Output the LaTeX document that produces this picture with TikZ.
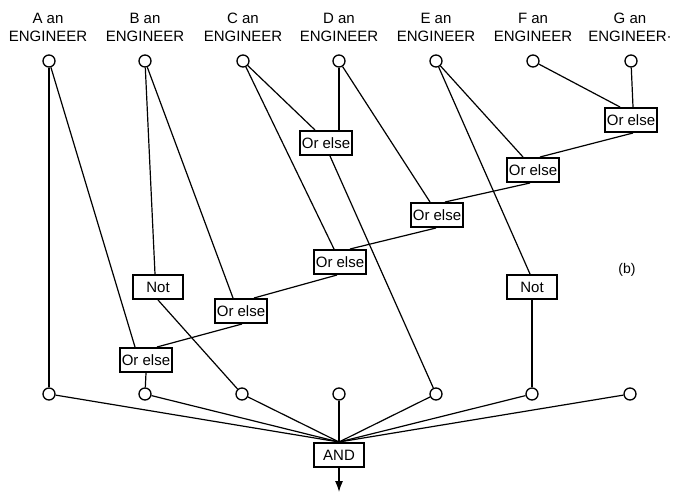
\documentclass[tikz,border=0pt]{standalone}
\usepackage{fontspec}
\setmainfont{Liberation Sans}
\usetikzlibrary{arrows.meta}

\begin{document}
\begin{tikzpicture}[x=1pt,y=-1pt,line width=1.2pt,
  port/.style={draw,circle,fill=white,minimum size=12pt,inner sep=0pt,line width=1.3pt},
  gate/.style={draw,fill=white,line width=2pt,minimum width=50pt,minimum height=24pt,inner sep=2pt,font=\fontsize{15}{18}\selectfont},
  lbl/.style={align=center,font=\fontsize{15}{18}\selectfont},>={Latex[length=11pt,width=8pt]}]
\useasboundingbox (0,0) rectangle (679,492);
% inputs
\node[lbl] (la) at (48,27) {A an\\ENGINEER};
\node[lbl] (lb) at (145,27) {B an\\ENGINEER};
\node[lbl] (lc) at (243,27) {C an\\ENGINEER};
\node[lbl] (ld) at (339,27) {D an\\ENGINEER};
\node[lbl] (le) at (436,27) {E an\\ENGINEER};
\node[lbl] (lf) at (533,27) {F an\\ENGINEER};
\node[lbl] (lg) at (630,27) {G an\\ENGINEER·};
\node[port] (a1) at (49,61) {};
\node[port] (b1) at (145,61) {};
\node[port] (c1) at (243,61) {};
\node[port] (d1) at (339,61) {};
\node[port] (e1) at (436,61) {};
\node[port] (f1) at (533,61) {};
\node[port] (g1) at (631,61) {};
% gates
\node[gate] (or0) at (326,143) {Or else};
\node[gate] (or1) at (631,120) {Or else};
\node[gate] (or2) at (533,170) {Or else};
\node[gate] (or3) at (437,215) {Or else};
\node[gate] (or4) at (340,262) {Or else};
\node[gate] (or5) at (241,311) {Or else};
\node[gate] (or6) at (146,360) {Or else};
\node[gate] (not1) at (158,287) {Not};
\node[gate] (not2) at (532,287) {Not};
\node[font=\fontsize{14}{16}\selectfont] (tag) at (627,270) {(b)};
% outputs
\node[port] (a2) at (49,394) {};
\node[port] (b2) at (145,394) {};
\node[port] (c2) at (242,394) {};
\node[port] (d2) at (339,394) {};
\node[port] (e2) at (436,394) {};
\node[port] (f2) at (532,394) {};
\node[port] (g2) at (630,394) {};
\node[gate] (and) at (339,455) {AND};
\coordinate (out) at (339,492);
% wiring
\draw (a1) -- (a2);
\draw (a1) -- ([xshift=-11pt]or6.north);
\draw (b1) -- ([xshift=-3pt]not1.north);
\draw (b1) -- ([xshift=-8pt]or5.north);
\draw (c1) -- ([xshift=-11pt]or0.north);
\draw (c1) -- ([xshift=-6pt]or4.north);
\draw (d1) -- ([xshift=13pt]or0.north);
\draw (d1) -- ([xshift=-7pt]or3.north);
\draw (e1) -- ([xshift=-10pt]or2.north);
\draw (e1) -- ([xshift=-2pt]not2.north);
\draw (f1) -- ([xshift=-11pt]or1.north);
\draw (g1) -- ([xshift=2pt]or1.north);
\draw ([xshift=2pt]or1.south) -- ([xshift=7pt]or2.north);
\draw ([xshift=-3pt]or2.south) -- ([xshift=8pt]or3.north);
\draw ([xshift=-1pt]or3.south) -- ([xshift=10pt]or4.north);
\draw ([xshift=-3pt]or4.south) -- ([xshift=13pt]or5.north);
\draw ([xshift=1pt]or5.south) -- ([xshift=11pt]or6.north);
\draw ([xshift=4pt]or0.south) -- (e2);
\draw (or6.south) -- (b2);
\draw (not1.south) -- (c2);
\draw (not2.south) -- (f2);
\draw (a2) -- (and.north);
\draw (b2) -- (and.north);
\draw (c2) -- (and.north);
\draw (d2) -- (and.north);
\draw (e2) -- (and.north);
\draw (f2) -- (and.north);
\draw (g2) -- (and.north);
\draw[->] (and.south) -- (out);
\end{tikzpicture}
\end{document}
